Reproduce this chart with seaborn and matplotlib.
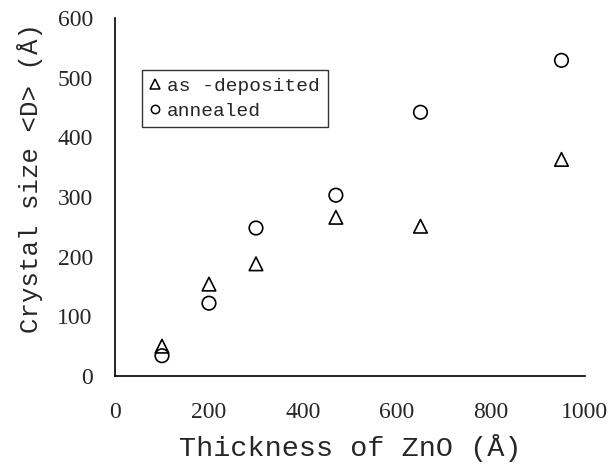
import matplotlib
matplotlib.use("Agg")
import matplotlib.pyplot as plt
import seaborn as sns
import pandas as pd
from matplotlib.ticker import MultipleLocator
from matplotlib.lines import Line2D

thickness = [100, 200, 300, 470, 650, 950]
as_deposited = [50, 154, 188, 266, 251, 363]
annealed = [34, 122, 248, 303, 442, 529]
series_names = ["as -deposited", "annealed"]
x_ticks = [0, 200, 400, 600, 800, 1000]
y_ticks = [0, 100, 200, 300, 400, 500, 600]

df = pd.DataFrame({
    "x": thickness * 2,
    "y": as_deposited + annealed,
    "series": [series_names[0]] * len(thickness) + [series_names[1]] * len(thickness),
})

sns.set_style("white")
plt.rcParams['font.family'] = ['Liberation Mono', 'DejaVu Sans Mono']

fig = plt.figure(figsize=(6.11, 4.72), dpi=100)
ax = fig.add_axes([0.1882, 0.2034, 0.7692, 0.7585])

sns.scatterplot(data=df, x="x", y="y", hue="series", style="series",
                markers={series_names[0]: "^", series_names[1]: "o"},
                palette={series_names[0]: "black", series_names[1]: "black"},
                s=95, ax=ax, legend=False)
for coll in ax.collections:
    coll.set_facecolor("none")
    coll.set_edgecolor("black")
    coll.set_linewidth(1.2)

ax.set_xlim(0, 1000)
ax.set_ylim(0, 600)
ax.set_xticks(x_ticks)
ax.set_yticks(y_ticks)
ax.xaxis.set_minor_locator(MultipleLocator(40))
ax.tick_params(axis="both", which="major", direction="in", length=4, width=1,
               labelsize=17, labelfontfamily="Liberation Serif")
ax.tick_params(axis="x", which="major", pad=19)
ax.tick_params(axis="y", which="major", pad=16)
ax.tick_params(axis="x", which="minor", direction="in", length=3, width=1)

for side in ["top", "right"]:
    ax.spines[side].set_visible(False)
for side in ["left", "bottom"]:
    ax.spines[side].set_color("black")
    ax.spines[side].set_linewidth(1.2)

ax.set_xlabel("Thickness of ZnO (Å)", fontsize=20.5, labelpad=8)
ax.set_ylabel("Crystal size <D> (Å)", fontsize=18.5)
ax.yaxis.set_label_coords(-0.153, 0.553)

handles = [
    Line2D([], [], marker="^", linestyle="none", markerfacecolor="none",
           markeredgecolor="black", markersize=7, markeredgewidth=1.1),
    Line2D([], [], marker="o", linestyle="none", markerfacecolor="none",
           markeredgecolor="black", markersize=6, markeredgewidth=1.1),
]
leg = ax.legend(handles, series_names, loc="upper left",
                bbox_to_anchor=(0.057, 0.855), borderaxespad=0,
                frameon=True, fancybox=False, fontsize=14,
                handlelength=0.6, handletextpad=0.3, borderpad=0.4,
                labelspacing=0.35)
leg.get_frame().set_edgecolor("black")
leg.get_frame().set_linewidth(1.0)

fig.savefig("out.png", dpi=100)
